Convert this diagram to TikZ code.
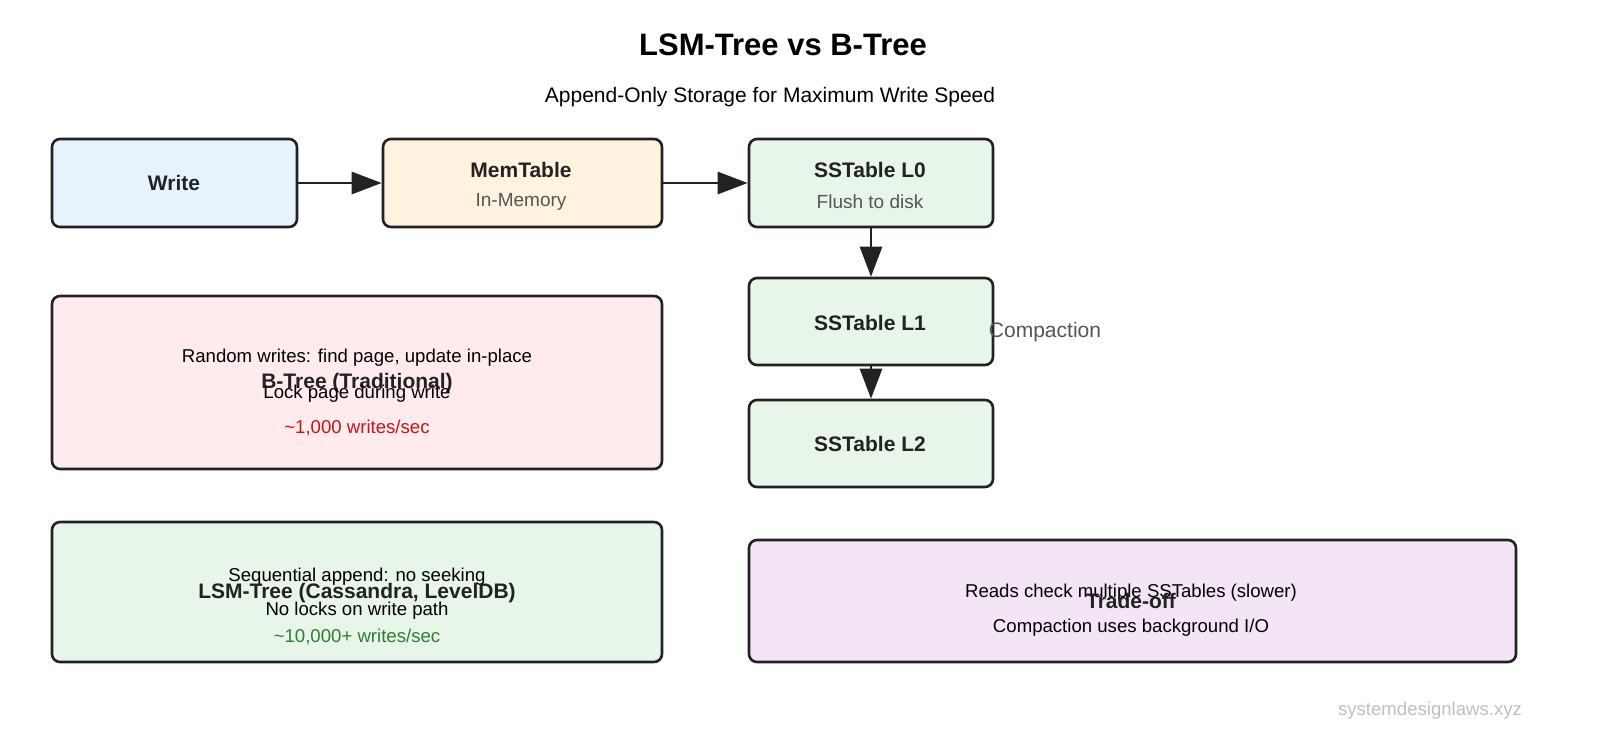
\documentclass[tikz,border=0pt]{standalone}
\usepackage{fontspec}
\setmainfont{Liberation Sans}
\usetikzlibrary{arrows.meta}
\definecolor{bl}{HTML}{E6F2FC}
\definecolor{or}{HTML}{FFF3E0}
\definecolor{gr}{HTML}{E8F5E9}
\definecolor{rd}{HTML}{FFEBEE}
\definecolor{pu}{HTML}{F3E5F5}
\definecolor{edge}{HTML}{222222}
\definecolor{sub}{HTML}{555555}
\begin{document}
\begin{tikzpicture}[x=0.5pt,y=-0.5pt,
 box/.style={draw=edge,line width=1.3pt,rounded corners=4pt,inner sep=0pt},
 t/.style={font=\fontsize{9.3}{11}\selectfont,text=black},
 b/.style={font=\fontsize{10.5}{12}\selectfont\bfseries,text=edge},
 g/.style={font=\fontsize{9.5}{11}\selectfont,text=sub},
 arr/.style={-{Triangle[length=15pt,width=11pt]},line width=1.4pt,draw=edge}]
\useasboundingbox (0,0) rectangle (1600,746);
\node[font=\fontsize{15.5}{18}\selectfont\bfseries] (title) at (783,45) {LSM-Tree vs B-Tree};
\node[font=\fontsize{10.5}{12}\selectfont] (subt) at (770,97) {Append-Only Storage for Maximum Write Speed};
\node[box,fill=bl,minimum width=122.5pt,minimum height=44pt] (w) at (174.5,183) {};
\node[b] at (174,183) {Write};
\node[box,fill=or,minimum width=139.5pt,minimum height=44pt] (m) at (522.5,183) {};
\node[b] at (521,170) {MemTable};
\node[g] at (521,202) {In-Memory};
\node[box,fill=gr,minimum width=122pt,minimum height=44pt] (l0) at (871,183) {};
\node[b] at (870,170) {SSTable L0};
\node[g] at (870,202) {Flush to disk};
\node[box,fill=gr,minimum width=122pt,minimum height=43.5pt] (l1) at (871,321.5) {};
\node[b] at (870,323) {SSTable L1};
\node[g,font=\fontsize{10.5}{12}\selectfont] at (1045,332) {Compaction};
\node[box,fill=gr,minimum width=122pt,minimum height=43.5pt] (l2) at (871,443.5) {};
\node[b] at (870,444) {SSTable L2};
\draw[arr] (w) -- (m);
\draw[arr] (m) -- (l0);
\draw[arr] (l0) -- (l1);
\draw[arr] (l1) -- (l2);
\node[box,fill=rd,minimum width=305pt,minimum height=86.5pt] (bt) at (357,382.5) {};
\node[t] at (357,358) {Random writes: find page, update in-place};
\node[b] at (357,383) {B-Tree (Traditional)};
\node[t] at (357,394) {Lock page during write};
\node[t,text={rgb,255:red,200;green,20;blue,20}] at (357,428) {\textasciitilde1,000 writes/sec};
\node[box,fill=gr,minimum width=305pt,minimum height=70pt] (ls) at (357,592) {};
\node[t] at (357,577) {Sequential append: no seeking};
\node[b] at (357,593) {LSM-Tree (Cassandra, LevelDB)};
\node[t] at (357,611) {No locks on write path};
\node[t,text={rgb,255:red,46;green,125;blue,50}] at (357,637) {\textasciitilde10,000+ writes/sec};
\node[box,fill=pu,minimum width=383.5pt,minimum height=61pt] (to) at (1132.5,601) {};
\node[t] at (1131,593) {Reads check multiple SSTables (slower)};
\node[b] at (1131,601) {Trade-off};
\node[t] at (1131,628) {Compaction uses background I/O};
\node[font=\fontsize{9.3}{11}\selectfont,text=black!25] at (1430,711) {systemdesignlaws.xyz};
\end{tikzpicture}
\end{document}
